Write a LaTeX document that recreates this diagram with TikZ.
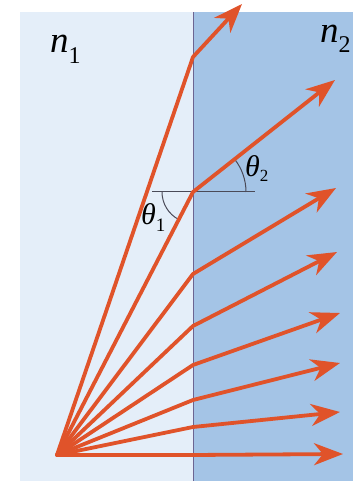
\documentclass[tikz,border=0pt]{standalone}
\usepackage{fontspec}
\setmainfont{Liberation Serif}
\usetikzlibrary{arrows.meta}
\definecolor{medone}{HTML}{E4EEF9}
\definecolor{medtwo}{HTML}{A4C4E6}
\definecolor{raycol}{HTML}{E0532A}
\definecolor{bndcol}{HTML}{6C6592}
\definecolor{normcol}{HTML}{4A4A58}
\begin{document}
\begin{tikzpicture}[x=1pt,y=1pt,
  ray/.style={draw=raycol, line width=3.8pt, line join=round, line cap=round,
    -{Stealth[length=29pt,width=22pt,inset=9pt]}},
  guide/.style={draw=normcol, line width=1pt},
  nlbl/.style={inner sep=0pt, anchor=base west, font=\fontsize{37}{37}\selectfont},
  tlbl/.style={inner sep=0pt, anchor=base west, font=\fontsize{30}{30}\selectfont}]
\useasboundingbox (0,0) rectangle (353,481);
% media
\fill[medone] (20,0) rectangle (193,469);
\fill[medtwo] (193,0) rectangle (353,469);
\coordinate (BB) at (193,0);
\coordinate (BT) at (193,469);
\draw[bndcol, line width=0.9pt] (BB) -- (BT);
% source, kinks and tips
\coordinate (S) at (57,26);
\coordinate (K1) at (193,424); \coordinate (T1) at (242,477);
\coordinate (K2) at (193,289); \coordinate (T2) at (335,401);
\coordinate (K3) at (193,207); \coordinate (T3) at (336,293);
\coordinate (K4) at (193,155); \coordinate (T4) at (337,229);
\coordinate (K5) at (193,116); \coordinate (T5) at (340,168);
\coordinate (K6) at (193,81);  \coordinate (T6) at (340,118);
\coordinate (K7) at (193,54);  \coordinate (T7) at (340,69);
\coordinate (K8) at (193,26);  \coordinate (T8) at (343,27);
% normal and angle arcs
\coordinate (NL) at (152,289);
\coordinate (NR) at (255,289);
\draw[guide] (NL) -- (NR);
\draw[guide] ([shift={(180:31pt)}]K2) arc[start angle=180, end angle=242.6, radius=31pt];
\draw[guide] ([shift={(0:53pt)}]K2) arc[start angle=0, end angle=38.3, radius=53pt];
% rays
\foreach \i in {1,...,8}{
  \draw[ray] (S) -- (K\i) -- (T\i);
}
% labels
\node[nlbl] (n1) at (50,428) {\itshape n\raisebox{-11pt}{\fontsize{24}{24}\selectfont\upshape 1}};
\node[nlbl] (n2) at (320,438) {\itshape n\raisebox{-10pt}{\fontsize{24}{24}\selectfont\upshape 2}};
\node[tlbl] (th1) at (141,256) {\itshape θ\raisebox{-7pt}{\fontsize{19}{19}\selectfont\upshape 1}};
\node[tlbl] (th2) at (245,304) {\itshape θ\raisebox{-5pt}{\fontsize{17}{17}\selectfont\upshape 2}};
\end{tikzpicture}
\end{document}
